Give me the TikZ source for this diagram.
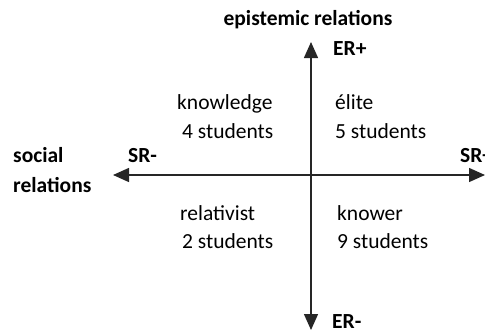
\documentclass[tikz,border=0pt]{standalone}
\usepackage{fontspec}
\setmainfont{Carlito}
\usetikzlibrary{arrows.meta}
\tikzset{
  quadlbl/.style={inner sep=0pt, anchor=base west, font=\fontsize{21.5}{24}\selectfont},
  axislbl/.style={quadlbl, font=\fontsize{21.5}{24}\selectfont\bfseries},
  axisline/.style={line width=1.4pt, black!85, {Triangle[length=16pt,width=14pt]}-{Triangle[length=16pt,width=14pt]}}
}
\begin{document}
\begin{tikzpicture}[x=1pt,y=-1pt]
\useasboundingbox (0,0) rectangle (485,333);

% axes
\coordinate (ertop) at (311,42);
\coordinate (erbot) at (311,330);
\coordinate (srleft) at (113,175);
\coordinate (srright) at (485,175);
\draw[axisline] (erbot) to (ertop);
\draw[axisline] (srleft) to (srright);

% axis labels
\node[axislbl, anchor=base] (eprel) at (308,25) {epistemic relations};
\node[axislbl] (erplus) at (333,55) {ER+};
\node[axislbl] (erminus) at (332,328) {ER-};
\node[axislbl] (social) at (13,162) {social};
\node[axislbl] (relations) at (13,192) {relations};
\node[axislbl] (srminus) at (128,162) {SR-};
\node[axislbl] (srplus) at (460,162) {SR+};

% quadrants
\node[quadlbl] (knowledge) at (177,109) {knowledge};
\node[quadlbl] (knowledgen) at (182,138) {4 students};
\node[quadlbl] (elite) at (335,109) {élite};
\node[quadlbl] (eliten) at (335,138) {5 students};
\node[quadlbl] (relativist) at (180,220) {relativist};
\node[quadlbl] (relativistn) at (182,248) {2 students};
\node[quadlbl] (knower) at (337,220) {knower};
\node[quadlbl] (knowern) at (337,248) {9 students};

\end{tikzpicture}
\end{document}
